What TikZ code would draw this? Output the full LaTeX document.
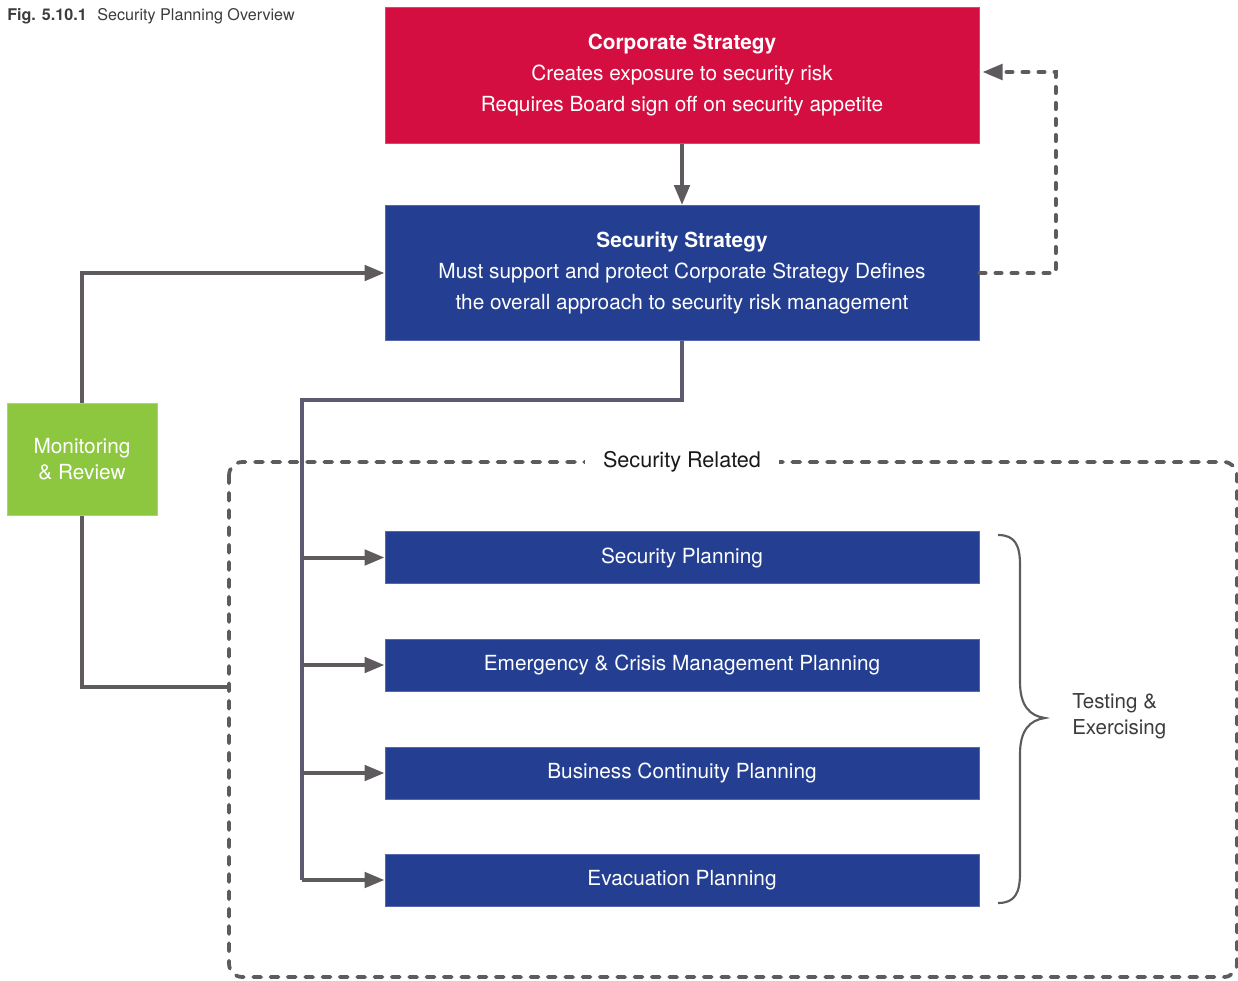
\documentclass[tikz,border=0pt]{standalone}
\usepackage{fontspec}
\setmainfont{TeX Gyre Heros}
\usetikzlibrary{arrows.meta,calc}
\definecolor{corpred}{RGB}{212,14,65}
\definecolor{corpedge}{RGB}{222,70,105}
\definecolor{secblue}{RGB}{36,63,145}
\definecolor{secedge}{RGB}{88,104,176}
\definecolor{mongreen}{RGB}{141,198,63}
\definecolor{monedge}{RGB}{170,214,110}
\definecolor{linegray}{RGB}{94,90,94}
\definecolor{trunkgray}{RGB}{92,90,112}
\definecolor{textgray}{RGB}{60,60,60}

\begin{document}
\begin{tikzpicture}[x=0.75pt,y=-0.75pt,
  boxtext/.style={font=\fontsize{15.6}{23.25}\selectfont, text=white, align=center},
  bigbox/.style={boxtext, line width=0.75pt, minimum width=445.5pt, minimum height=101.25pt, inner sep=0pt},
  planbox/.style={boxtext, fill=secblue, draw=secedge, line width=0.75pt,
    minimum width=445.5pt, minimum height=39pt, inner sep=0pt},
  conn/.style={draw=linegray, line width=3pt, -{Triangle[length=15pt,width=11.5pt]}},
  trunk/.style={draw=trunkgray, line width=2.6pt},
  plainline/.style={draw=linegray, line width=3pt},
  feedback/.style={draw=linegray, line width=3pt, line cap=round,
    dash pattern=on 4.5pt off 7.5pt, -{Triangle[length=15pt,width=11.5pt,line cap=butt]}},
  groupbox/.style={draw=linegray, line width=2.8pt, line cap=round,
    dash pattern=on 6pt off 7pt, rounded corners=10pt}
]
\useasboundingbox (0,0) rectangle (1238,981);

% caption
\node[anchor=base west, inner sep=0pt, text=textgray, font=\fontsize{12.1}{14}\selectfont]
  (caption) at (7,20.5) {\textbf{Fig. 5.10.1}\hspace{8pt}Security Planning Overview};

% strategy boxes
\node[bigbox, fill=corpred, draw=corpedge] (corp) at (682,75.5)
  {\textbf{Corporate Strategy}\\Creates exposure to security risk\\Requires Board sign off on security appetite};
\node[bigbox, fill=secblue, draw=secedge] (sec) at (682,273)
  {\textbf{Security Strategy}\\Must support and protect Corporate Strategy Defines\\the overall approach to security risk management};

% monitoring
\node[boxtext, fill=mongreen, draw=monedge, line width=0.75pt, inner sep=0pt,
  minimum width=112.5pt, minimum height=84pt, font=\fontsize{15.6}{19.5}\selectfont]
  (mon) at (82,459) {Monitoring\\\& Review};

% security related group
\draw[groupbox] (229,462) rectangle (1237,977);
\node[fill=white, inner xsep=13.5pt, inner ysep=2pt, text=black!90,
  font=\fontsize{16.2}{18}\selectfont] (grouplabel) at (682,462) {Security Related};
\coordinate (groupleft) at (229,687);

% planning boxes
\node[planbox] (sp)  at (682,557.5) {Security Planning};
\node[planbox] (ecm) at (682,665)   {Emergency \& Crisis Management Planning};
\node[planbox] (bcp) at (682,773)   {Business Continuity Planning};
\node[planbox] (ep)  at (682,880)   {Evacuation Planning};

% connectors
\draw[conn] (corp.south) -- (sec.north);
\draw[feedback] (sec.east) -- ++(76,0) |- ($(corp.east)+(3,-3.5)$);
\draw[conn] (mon.north) |- (sec.west);
\draw[plainline] (mon.south) |- (groupleft);

\coordinate (trunktop) at (302,400);
\coordinate (trunkbot) at (302,880);
\draw[trunk] (sec.south) |- (trunktop) -- (trunkbot);
\draw[conn] (sp.west -| trunktop) -- (sp.west);
\draw[conn] (ecm.west -| trunktop) -- (ecm.west);
\draw[conn] (bcp.west -| trunktop) -- (bcp.west);
\draw[conn] (ep.west -| trunktop) -- (ep.west);

% brace
\draw[draw=linegray, line width=1.6pt]
  (998,535) .. controls (1015,535) and (1020,545) .. (1020,565)
  -- (1020,682) .. controls (1020,706) and (1030,716) .. (1045,718)
  .. controls (1030,720) and (1020,730) .. (1020,754)
  -- (1020,873) .. controls (1020,893) and (1015,903) .. (998,903);
\node[anchor=west, align=left, inner sep=0pt, text=textgray,
  font=\fontsize{15.4}{19.5}\selectfont] (testing) at (1072,716) {Testing \&\\Exercising};

\end{tikzpicture}
\end{document}
